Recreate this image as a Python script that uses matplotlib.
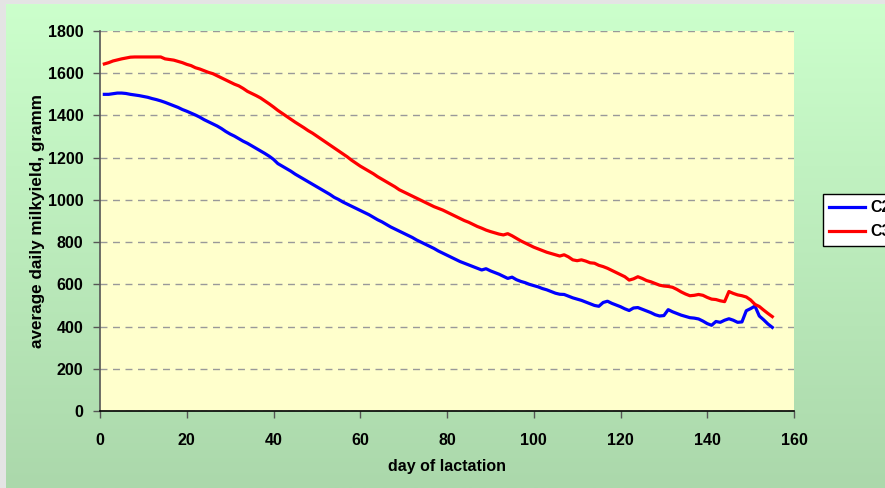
import numpy as np
import matplotlib
matplotlib.use("Agg")
import matplotlib.pyplot as plt
from matplotlib.colors import LinearSegmentedColormap

days = list(range(1, 156))

c2 = [1500, 1500, 1503, 1506, 1506, 1504, 1500, 1497, 1494, 1490,
      1486, 1480, 1475, 1469, 1462, 1454, 1446, 1438, 1428, 1420,
      1411, 1402, 1392, 1380, 1370, 1360, 1350, 1338, 1324, 1312,
      1302, 1290, 1278, 1268, 1256, 1244, 1232, 1220, 1207, 1192,
      1172, 1160, 1148, 1136, 1122, 1110, 1098, 1086, 1074, 1062,
      1050, 1038, 1026, 1012, 1002, 990, 980, 970, 960, 950,
      940, 930, 918, 906, 896, 884, 872, 862, 852, 842,
      832, 822, 810, 800, 790, 780, 770, 758, 748, 738,
      728, 718, 708, 700, 692, 684, 676, 668, 674, 664,
      656, 648, 638, 628, 634, 622, 614, 608, 600, 594,
      588, 580, 574, 566, 558, 553, 552, 544, 536, 530,
      524, 516, 508, 500, 496, 514, 520, 510, 502, 494,
      484, 476, 488, 490, 482, 474, 466, 456, 450, 452,
      480, 470, 462, 454, 448, 442, 440, 436, 426, 414,
      406, 424, 420, 430, 437, 430, 420, 422, 475, 485,
      497, 450, 432, 412, 396]

c3 = [1644, 1650, 1658, 1663, 1668, 1672, 1676, 1677, 1677, 1677,
      1677, 1677, 1677, 1677, 1668, 1665, 1662, 1656, 1650, 1642,
      1636, 1626, 1620, 1612, 1604, 1598, 1588, 1578, 1568, 1558,
      1548, 1540, 1528, 1514, 1504, 1494, 1483, 1469, 1455, 1440,
      1424, 1410, 1396, 1382, 1368, 1355, 1342, 1328, 1316, 1302,
      1288, 1274, 1260, 1246, 1232, 1218, 1204, 1188, 1174, 1160,
      1148, 1136, 1124, 1110, 1098, 1086, 1074, 1062, 1048, 1038,
      1028, 1018, 1008, 998, 988, 978, 968, 960, 952, 942,
      932, 922, 912, 902, 894, 884, 874, 866, 857, 850,
      844, 838, 834, 840, 830, 818, 806, 796, 786, 776,
      768, 760, 752, 746, 740, 734, 740, 730, 716, 712,
      716, 710, 702, 700, 690, 684, 676, 666, 656, 646,
      636, 620, 626, 636, 628, 618, 612, 604, 596, 592,
      590, 586, 576, 564, 554, 546, 548, 552, 548, 538,
      530, 528, 522, 518, 566, 557, 550, 546, 540, 526,
      505, 495, 478, 462, 447]

series_names = ["C2", "C3"]
x_ticks = [0, 20, 40, 60, 80, 100, 120, 140, 160]
y_ticks = [0, 200, 400, 600, 800, 1000, 1200, 1400, 1600, 1800]

W, H = 885, 488
fig = plt.figure(figsize=(W / 100, H / 100), dpi=100)
fig.patch.set_facecolor("#E4E4E4")

# green gradient panel
bg = fig.add_axes([6 / W, 0, 1 - 6 / W, (H - 4) / H], zorder=-10)
cmap = LinearSegmentedColormap.from_list("g", ["#CCFFCC", "#ABD8AB"])
grad = np.linspace(0, 1, 256).reshape(-1, 1)
bg.imshow(grad, aspect="auto", cmap=cmap, extent=[0, 1, 0, 1], origin="upper")
bg.set_axis_off()

left, right = 100 / W, 794 / W
bottom, top = (H - 411) / H, (H - 31) / H
ax = fig.add_axes([left, bottom, right - left, top - bottom])
ax.set_facecolor("#FFFFCC")

ax.plot(days, c2, color="#0000FF", lw=2.3, label=series_names[0], zorder=3)
ax.plot(days, c3, color="#FF0000", lw=2.3, label=series_names[1], zorder=3)

ax.set_xlim(0, 160)
ax.set_ylim(0, 1800)
ax.set_xticks(x_ticks)
ax.set_yticks(y_ticks)
ax.yaxis.grid(True, color="#999999", linestyle=(0, (5, 4)), lw=1)
ax.set_axisbelow(True)

for s in ["top", "right"]:
    ax.spines[s].set_visible(False)
ax.spines["left"].set_color("#555555")
ax.spines["left"].set_linewidth(1.2)
ax.spines["bottom"].set_color("#000000")
ax.spines["bottom"].set_linewidth(1.2)

fs = 11.5
ax.tick_params(axis="both", direction="out", length=5, width=1, color="#555555",
               labelsize=fs, pad=7)
for lbl in ax.get_xticklabels() + ax.get_yticklabels():
    lbl.set_fontweight("bold")
    lbl.set_family("Liberation Sans")
ax.tick_params(axis="x", pad=11)

ax.set_xlabel("day of lactation", fontsize=fs, fontweight="bold",
              family="Liberation Sans", labelpad=8)
ax.set_ylabel("average daily milkyield, gramm", fontsize=12.3, fontweight="bold",
              family="Liberation Sans", labelpad=2)

leg = fig.legend(loc="upper left", bbox_to_anchor=(823 / W, (H - 194) / H),
                 frameon=True, fancybox=False, edgecolor="#000000",
                 facecolor="#FFFFFF", framealpha=1,
                 prop={"family": "Liberation Sans", "weight": "bold", "size": fs},
                 handlelength=2.2, borderpad=0.4, labelspacing=0.55,
                 handletextpad=0.35, borderaxespad=0)
leg.get_frame().set_linewidth(1.0)
for line in leg.get_lines():
    line.set_linewidth(2.3)

fig.savefig("out.png", dpi=100)
